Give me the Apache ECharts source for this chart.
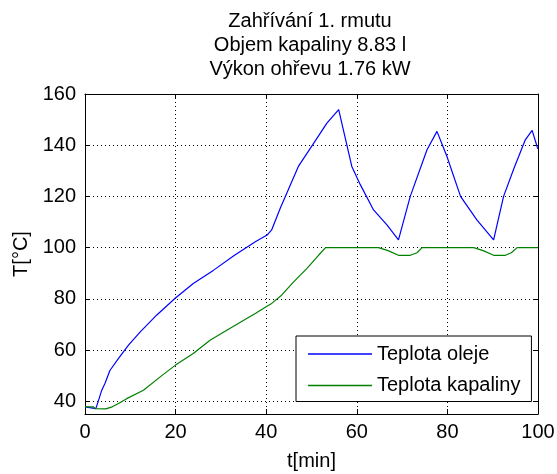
<!DOCTYPE html>
<html>
<head>
<meta charset="utf-8">
<script src="https://cdn.jsdelivr.net/npm/echarts@6/dist/echarts.min.js"></script>
<style>
html,body{margin:0;padding:0;background:#fff;}
#chart{width:557px;height:474px;}
</style>
</head>
<body>
<div id="chart"></div>
<script>
// Title lines
var titleLines = ['Zahřívání 1. rmutu', 'Objem kapaliny 8.83 l', 'Výkon ohřevu 1.76 kW'];
var seriesNames = ['Teplota oleje', 'Teplota kapaliny'];
var xName = 't[min]';
var yName = 'T[°C]';
var xTicks = [0, 20, 40, 60, 80, 100];
var yTicks = [40, 60, 80, 100, 120, 140, 160];

// Oil temperature (blue)
var timeOil = [0, 2.4, 3.0, 3.7, 4.4, 5.5, 7.4, 9.6, 12.2, 15.8, 19.9, 23.9, 28.4, 33.0, 37.6, 40.2, 41.2, 43.1, 47.1, 50.5, 53.4, 56.0, 58.9, 60.8, 63.7, 66.7, 69.2, 71.8, 75.5, 77.7, 79.9, 82.9, 86.5, 90.2, 92.4, 94.7, 97.2, 98.7, 99.8, 100];
var tempOil = [37.8, 37.1, 40.4, 44.3, 46.9, 52.0, 56.7, 61.9, 67.1, 73.6, 80.2, 86.0, 91.2, 97.0, 102.3, 104.9, 106.9, 115.4, 131.7, 140.8, 148.6, 153.9, 131.7, 124.5, 114.7, 108.8, 103.0, 120.0, 138.2, 145.4, 135.6, 120.0, 110.8, 103.0, 120.0, 131.0, 142.1, 145.8, 139.5, 138.5];

// Liquid temperature (green)
var timeLiq = [0, 1.8, 2.3, 4.6, 6.0, 7.5, 9.2, 12.9, 16.6, 19.9, 23.9, 27.6, 31.3, 35.7, 37.6, 39.9, 41.2, 43.4, 46.0, 49.0, 51.6, 53.1, 64.8, 66.9, 69.2, 71.8, 73.3, 74.4, 85.8, 87.9, 90.2, 92.8, 94.1, 95.4, 100];
var tempLiq = [37.8, 37.8, 37.1, 37.0, 37.8, 39.2, 41.0, 44.3, 49.5, 54.0, 58.6, 63.8, 67.7, 72.3, 74.3, 76.8, 78.2, 81.4, 86.5, 91.9, 97.1, 100, 100, 98.8, 97.0, 97.0, 98.0, 100, 100, 98.8, 97.0, 97.0, 98.0, 100, 100];

function pairs(t, v) { var out = []; for (var i = 0; i < t.length; i++) out.push([t[i], v[i]]); return out; }

var FONT = "'Liberation Sans', Arial, Helvetica, sans-serif";
var FS = 20;
var chart = echarts.init(document.getElementById('chart'), null, {renderer: 'canvas'});

var baseX = {
  type: 'value', min: 0, max: 100, interval: 20,
  axisLine: {show: true, onZero: false, lineStyle: {color: '#000', width: 1}},
  axisTick: {show: true, inside: true, length: 5, lineStyle: {color: '#000'}}
};
var baseY = {
  type: 'value', min: 35, max: 160,
  axisLine: {show: true, onZero: false, lineStyle: {color: '#000', width: 1}},
  axisTick: {show: true, inside: true, length: 5, customValues: yTicks, lineStyle: {color: '#000'}}
};

chart.setOption({
  animation: false,
  backgroundColor: '#fff',
  title: {
    text: titleLines.join('\n'),
    left: 310, top: 9, textAlign: 'center',
    padding: 0,
    textStyle: {fontFamily: FONT, fontSize: FS, fontWeight: 'normal', color: '#000', lineHeight: 24}
  },
  grid: {left: 85, right: 19, top: 94, bottom: 60, containLabel: false, outerBoundsMode: 'none'},
  legend: {
    data: seriesNames,
    orient: 'vertical', left: 296, top: 336,
    padding: [8, 11, 6, 12],
    icon: 'rect',
    itemWidth: 64, itemHeight: 1.5, itemGap: 11.5,
    itemStyle: {borderWidth: 0},
    backgroundColor: '#fff', borderColor: '#000', borderWidth: 1, borderRadius: 0,
    textStyle: {fontFamily: FONT, fontSize: FS, color: '#000', lineHeight: 20}
  },
  xAxis: [
    Object.assign({}, baseX, {
      position: 'bottom',
      name: xName, nameLocation: 'middle', nameGap: 37,
      nameTextStyle: {fontFamily: FONT, fontSize: FS, color: '#000'},
      axisLabel: {show: true, margin: 8, fontFamily: FONT, fontSize: FS, color: '#000', showMinLabel: true, showMaxLabel: true},
      splitLine: {show: true, lineStyle: {color: '#000', width: 1, type: [1, 3]}}
    }),
    Object.assign({}, baseX, {
      position: 'top',
      axisLabel: {show: false},
      splitLine: {show: false}
    })
  ],
  yAxis: [
    Object.assign({}, baseY, {
      position: 'left',
      name: yName, nameLocation: 'middle', nameGap: 51, nameRotate: 90,
      nameTextStyle: {fontFamily: FONT, fontSize: FS, color: '#000'},
      axisLabel: {show: true, margin: 9, customValues: yTicks, fontFamily: FONT, fontSize: FS, color: '#000'},
      splitLine: {show: true, lineStyle: {color: '#000', width: 1, type: [1, 3]}}
    }),
    Object.assign({}, baseY, {
      position: 'right',
      axisLabel: {show: false},
      splitLine: {show: false}
    })
  ],
  series: [
    {
      name: seriesNames[0], type: 'line', xAxisIndex: 0, yAxisIndex: 0,
      data: pairs(timeOil, tempOil), symbol: 'none', smooth: false,
      lineStyle: {color: '#0000ff', width: 1.2}, itemStyle: {color: '#0000ff'}
    },
    {
      name: seriesNames[1], type: 'line', xAxisIndex: 0, yAxisIndex: 0,
      data: pairs(timeLiq, tempLiq), symbol: 'none', smooth: false,
      lineStyle: {color: '#008000', width: 1.2}, itemStyle: {color: '#008000'}
    }
  ]
});
</script>
</body>
</html>
